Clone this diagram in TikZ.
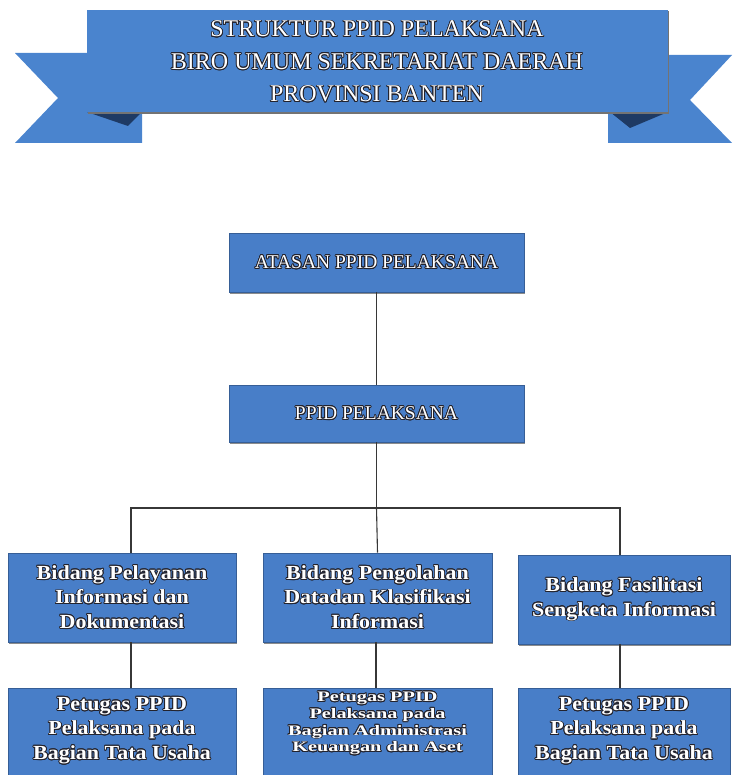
\documentclass[tikz,border=0pt]{standalone}
\usepackage{fontspec}
\setmainfont{Liberation Serif}
\newfontfamily\widefont[FakeStretch=1.1]{Liberation Serif}
\newfontfamily\xwidefont[FakeStretch=1.4]{Liberation Serif}
\usepackage{contour}
\contourlength{0.8pt}
\usetikzlibrary{shadows}
\definecolor{ribbon}{RGB}{74,132,206}
\definecolor{boxblue}{RGB}{72,126,200}
\definecolor{folddark}{RGB}{30,58,100}
\definecolor{edgedark}{RGB}{35,35,45}
\definecolor{connector}{RGB}{55,55,55}
\newcommand{\ol}[1]{\contour{edgedark}{#1}}
\tikzset{
  orgbox/.style={draw=boxblue!75!black, line width=0.6pt, fill=boxblue, text=white,
    align=center, inner sep=0pt,
    drop shadow={shadow xshift=1pt, shadow yshift=-1.5pt, opacity=0.45, fill=black}},
  headtext/.style={font=\fontsize{19.5}{22}\selectfont},
  bodytext/.style={text=white, align=center, font=\widefont\fontsize{20}{24.5}\selectfont\bfseries},
  smalltext/.style={text=white, align=center, font=\xwidefont\fontsize{14.5}{16.8}\selectfont\bfseries},
  titletext/.style={text=white, align=center, font=\fontsize{24}{32.5}\selectfont},
  link/.style={draw=connector, line width=1.1pt}
}
\begin{document}
\begin{tikzpicture}[x=1pt,y=-1pt]
\useasboundingbox (0,0) rectangle (732,775);
\clip (0,0) rectangle (732,775);
% ribbon tails
\fill[ribbon] (15,53) -- (142,53) -- (142,143) -- (15,143) -- (58,98) -- cycle;
\fill[ribbon] (732,55) -- (608,55) -- (608,143) -- (732,143) -- (690,100) -- cycle;
% folds
\fill[folddark] (87,112) -- (142,112) -- (128,126) -- cycle;
\fill[folddark] (610,112) -- (668,112) -- (630,128) -- cycle;
% main band
\fill[black!55] (88,11) rectangle (669,114);
\fill[ribbon] (87,10) rectangle (668,112);
\node[titletext] (title) at (377,62) {\ol{STRUKTUR PPID PELAKSANA}\\\ol{BIRO UMUM SEKRETARIAT DAERAH}\\\ol{PROVINSI BANTEN}};
% hierarchy
\node[orgbox, minimum width=295pt, minimum height=59pt, headtext] (atasan) at (376.5,262.5) {\ol{ATASAN PPID PELAKSANA}};
\node[orgbox, minimum width=295pt, minimum height=57pt, headtext] (ppid) at (376.5,413.5) {\ol{PPID PELAKSANA}};
\node[orgbox, minimum width=228pt, minimum height=89pt, bodytext] (b1) at (122,597.5) {\ol{Bidang Pelayanan}\\\ol{Informasi dan}\\\ol{Dokumentasi}};
\node[orgbox, minimum width=229pt, minimum height=89pt, bodytext] (b2) at (377.5,597.5) {\ol{Bidang Pengolahan}\\\ol{Datadan Klasifikasi}\\\ol{Informasi}};
\node[orgbox, minimum width=212pt, minimum height=89pt, bodytext] (b3) at (624,599.5) {\ol{Bidang Fasilitasi}\\\ol{Sengketa Informasi}};
\node[orgbox, minimum width=228pt, minimum height=100pt] (c1) at (122,738) {};
\node[orgbox, minimum width=229pt, minimum height=100pt] (c2) at (377.5,738) {};
\node[orgbox, minimum width=212pt, minimum height=100pt] (c3) at (624,738) {};
\node[bodytext] (c1t) at (122,731) {\ol{Petugas PPID}\\\ol{Pelaksana pada}\\\ol{Bagian Tata Usaha}};
\node[smalltext] (c2t) at (377.5,724) {\ol{Petugas PPID}\\\ol{Pelaksana pada}\\\ol{Bagian Administrasi}\\\ol{Keuangan dan Aset}};
\node[bodytext] (c3t) at (624,731) {\ol{Petugas PPID}\\\ol{Pelaksana pada}\\\ol{Bagian Tata Usaha}};
% connectors
\coordinate (bus) at (376.5,508);
\draw[link] (atasan.south) -- (ppid.north);
\draw[link] (ppid.south) -- (bus);
\draw[link] ([xshift=9pt]b1.north) |- (bus) -| ([xshift=-4pt]b3.north);
\draw[link] (bus) -- (b2.north);
\draw[link] ([xshift=9pt]b1.south) -- ([xshift=9pt]c1.north);
\draw[link] ([xshift=-1.5pt]b2.south) -- ([xshift=-1.5pt]c2.north);
\draw[link] ([xshift=-4pt]b3.south) -- ([xshift=-4pt]c3.north);
\end{tikzpicture}
\end{document}
